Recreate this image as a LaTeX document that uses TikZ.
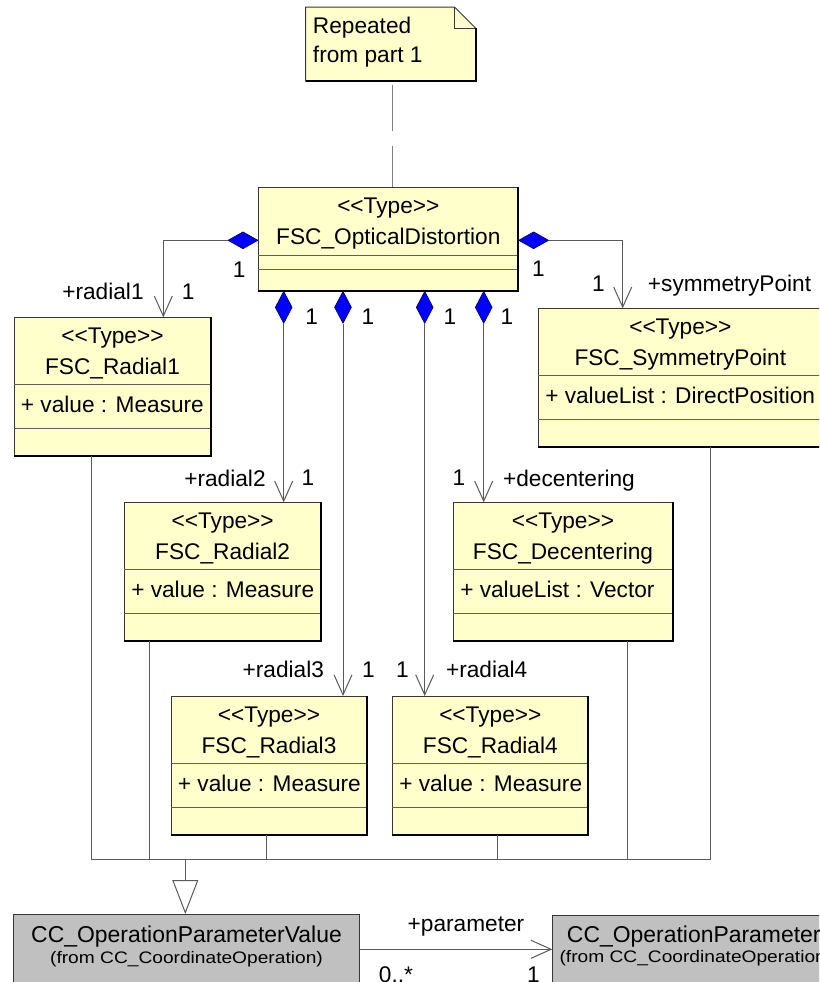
\documentclass[tikz,border=0pt]{standalone}
\usepackage{fontspec}
\setmainfont{Liberation Sans}
\newfontfamily\widesans[FakeStretch=1.15]{Liberation Sans}
\usetikzlibrary{shapes.geometric,arrows.meta,calc}

\definecolor{typefill}{RGB}{255,255,204}
\definecolor{extfill}{RGB}{192,192,192}
\definecolor{wire}{RGB}{90,90,90}
\definecolor{rim}{RGB}{55,55,55}
\definecolor{sepgray}{RGB}{95,95,95}
\definecolor{linkgray}{RGB}{128,128,128}
\definecolor{compblue}{RGB}{0,0,255}

% kerns keep the angle brackets from turning into guillemets
\newcommand\stereotype{\textless\kern0pt\textless\kern0pt Type\kern0pt\textgreater\kern0pt\textgreater}

\tikzset{
  classbody/.style={rectangle, fill=typefill, draw=rim, line width=0.75pt, inner sep=0, anchor=north west},
  extbox/.style={rectangle, fill=extfill, draw=rim, line width=0.75pt, inner sep=0, anchor=north west},
  heavyedge/.style={line width=1.5pt, draw=black},
  sepline/.style={line width=0.75pt, draw=sepgray},
  wireline/.style={line width=0.75pt, draw=wire},
  navarrow/.style={wireline, -{Straight Barb[length=15pt, width=13.5pt]}},
  notelink/.style={line width=1.1pt, draw=linkgray, dash pattern=on 34.5pt off 11.25pt, shorten <=2.5pt},
  compdiamond/.style={diamond, fill=compblue, draw=black!60!blue, line width=0.5pt, inner sep=0},
  hdiamond/.style={compdiamond, minimum width=22.5pt, minimum height=12.75pt},
  vdiamond/.style={compdiamond, minimum width=12.75pt, minimum height=24pt},
  lbl/.style={anchor=base, inner sep=0},
  bigname/.style={font=\fontsize{17.2}{21}\selectfont},
  pkgname/.style={font=\widesans\fontsize{12.5}{15}\selectfont},
}

% class box with stereotype, name, one attribute and an empty operation compartment
% #1 name, #2 left x, #3 top y, #4 width (px), #5 class name, #6 attribute
\newcommand\typebox[6]{%
  \node[classbody, minimum width={#4*0.75pt}, minimum height={137.7*0.75pt}] (#1) at (#2,#3) {};
  \draw[sepline] ($(#1.north west)+(0,67.5)$) -- ($(#1.north east)+(0,67.5)$);
  \draw[sepline] ($(#1.north west)+(0,111)$) -- ($(#1.north east)+(0,111)$);
  \draw[heavyedge] (#1.north east) -- (#1.south east) -- (#1.south west);
  \node[lbl] (#1-st) at ($(#1.north)+(0,26)$) {\stereotype};
  \node[lbl] (#1-nm) at ($(#1.north)+(0,57.5)$) {#5};
  \node[lbl, anchor=base west] (#1-at) at ($(#1.north west)+(6.7,95)$) {#6};
}

\begin{document}
\begin{tikzpicture}[x=0.75pt, y=-0.75pt, font=\fontsize{17}{20}\selectfont]
\useasboundingbox (0,0) rectangle (819,982);
\clip (0,0) rectangle (819,982);
\fill[white] (0,0) rectangle (819,982);

% ---- note ----
\node[inner sep=0, minimum width={169.3*0.75pt}, minimum height={73.7*0.75pt}, anchor=north west] (note) at (305.7,7) {};
\draw[fill=typefill, draw=rim, line width=0.75pt] (note.north west) -- ($(note.north east)+(-21,0)$) -- ($(note.north east)+(0,21)$) -- (note.south east) -- (note.south west) -- cycle;
\draw[rim, line width=0.75pt] ($(note.north east)+(-21,0)$) -- ($(note.north east)+(-21,21)$) -- ($(note.north east)+(0,21)$);
\draw[heavyedge] ($(note.north east)+(0,21)$) -- (note.south east) -- (note.south west);
\node[lbl, anchor=base west] (note-a) at (312.7,33.3) {Repeated};
\node[lbl, anchor=base west] (note-b) at (312.7,62.3) {from part 1};

% ---- FSC_OpticalDistortion ----
\node[classbody, minimum width={259*0.75pt}, minimum height={102.7*0.75pt}] (od) at (258.3,187.3) {};
\draw[sepline] ($(od.north west)+(0,67.7)$) -- ($(od.north east)+(0,67.7)$);
\draw[sepline] ($(od.north west)+(0,82)$) -- ($(od.north east)+(0,82)$);
\draw[heavyedge] (od.north east) -- (od.south east) -- (od.south west);
\node[lbl] (od-st) at ($(od.north)+(0,26)$) {\stereotype};
\node[lbl] (od-nm) at ($(od.north)+(0,57.5)$) {FSC\_OpticalDistortion};

\coordinate (lk) at (392.3,0);
\draw[notelink] (note.south -| lk) -- (od.north -| lk);

% ---- component types ----
\typebox{r1}{14}{317.3}{196}{FSC\_Radial1}{+ value : Measure}
\typebox{sp}{538.3}{308.3}{283}{FSC\_SymmetryPoint}{+ valueList : DirectPosition}
\typebox{r2}{124.3}{502.3}{195.7}{FSC\_Radial2}{+ value : Measure}
\typebox{dc}{453.3}{502.3}{218.4}{FSC\_Decentering}{+ valueList : Vector}
\typebox{r3}{171}{696}{195}{FSC\_Radial3}{+ value : Measure}
\typebox{r4}{392.3}{696}{195}{FSC\_Radial4}{+ value : Measure}

% ---- composition diamonds ----
\node[hdiamond, anchor=east] (dl) at ($(od.north west)+(0,53)$) {};
\node[hdiamond, anchor=west] (dr) at ($(od.north east)+(0,53)$) {};
\node[vdiamond, anchor=north] (d2) at ($(od.south west)+(25.4,0)$) {};
\node[vdiamond, anchor=north] (d3) at ($(od.south west)+(84.7,0)$) {};
\node[vdiamond, anchor=north] (d4) at ($(od.south west)+(166.4,0)$) {};
\node[vdiamond, anchor=north] (d5) at ($(od.south west)+(225.4,0)$) {};

% ---- compositions ----
\draw[navarrow] (dl.west) -| ($(r1.north west)+(149.3,0)$);
\draw[navarrow] (dr.east) -| ($(sp.north west)+(84.4,0)$);
\draw[navarrow] (d2.south) -- (d2.south |- r2.north);
\draw[navarrow] (d3.south) -- (d3.south |- r3.north);
\draw[navarrow] (d4.south) -- (d4.south |- r4.north);
\draw[navarrow] (d5.south) -- (d5.south |- dc.north);

% ---- role names and multiplicities ----
\node[lbl] (m-l) at (239.3,277) {1};
\node[lbl] (rn-1) at (103,299) {+radial1};
\node[lbl] (m-1) at (188.3,299) {1};
\node[lbl] (m-r) at (538.3,276.3) {1};
\node[lbl] (m-sp) at (598.3,291.3) {1};
\node[lbl] (rn-sp) at (729.5,291.3) {+symmetryPoint};
\node[lbl] (m-d2) at (311.7,324.7) {1};
\node[lbl] (m-d3) at (368,324.7) {1};
\node[lbl] (m-d4) at (450,324.7) {1};
\node[lbl] (m-d5) at (507,324.7) {1};
\node[lbl] (rn-2) at (225,486.3) {+radial2};
\node[lbl] (m-2) at (308,485.5) {1};
\node[lbl] (m-dc) at (459,485.5) {1};
\node[lbl] (rn-dc) at (569,486.3) {+decentering};
\node[lbl] (rn-3) at (283.3,677.3) {+radial3};
\node[lbl] (m-3) at (368.3,677) {1};
\node[lbl] (m-4) at (402.3,677) {1};
\node[lbl] (rn-4) at (486.7,677.3) {+radial4};

% ---- external classes ----
\node[extbox, minimum width={346.6*0.75pt}, minimum height={100*0.75pt}] (cv) at (12.7,914) {};
\node[lbl, bigname] (cv-nm) at ($(cv.north)+(0,28.7)$) {CC\_OperationParameterValue};
\node[lbl, pkgname] (cv-pk) at ($(cv.north)+(0,49)$) {(from CC\_CoordinateOperation)};

\node[extbox, minimum width={350*0.75pt}, minimum height={100*0.75pt}] (cp) at (552.3,915) {};
\node[lbl, anchor=base west, bigname] (cp-nm) at ($(cp.north west)+(14.4,27.7)$) {CC\_OperationParameter};
\node[lbl, anchor=base west, pkgname] (cp-pk) at ($(cp.north west)+(7,47.5)$) {(from CC\_CoordinateOperation)};

% ---- generalization bus ----
\coordinate (bus1) at (91.7,859.3);
\coordinate (bus2) at (149,859.3);
\coordinate (bus3) at (266,859.3);
\coordinate (bus4) at (497.3,859.3);
\coordinate (bus5) at (627.3,859.3);
\coordinate (bus6) at (710,859.3);
\coordinate (gen) at (185.3,859.3);
\draw[wireline] (r1.south -| bus1) -- (bus1) -- (bus6) -- (sp.south -| bus6);
\draw[wireline] (r2.south -| bus2) -- (bus2);
\draw[wireline] (r3.south -| bus3) -- (bus3);
\draw[wireline] (r4.south -| bus4) -- (bus4);
\draw[wireline] (dc.south -| bus5) -- (bus5);
\draw[wireline, -{Triangle[length=25.5pt, width=19.5pt, fill=white]}] (gen) -- (gen |- cv.north);

% ---- association to the parameter ----
\coordinate (asy) at (0,949.3);
\draw[navarrow] (cv.east |- asy) -- (cp.west |- asy);
\node[lbl] (rn-p) at (466,931) {+parameter};
\node[lbl] (m-p0) at (396,982.5) {0..*};
\node[lbl] (m-p1) at (533.5,982.5) {1};
\end{tikzpicture}
\end{document}
